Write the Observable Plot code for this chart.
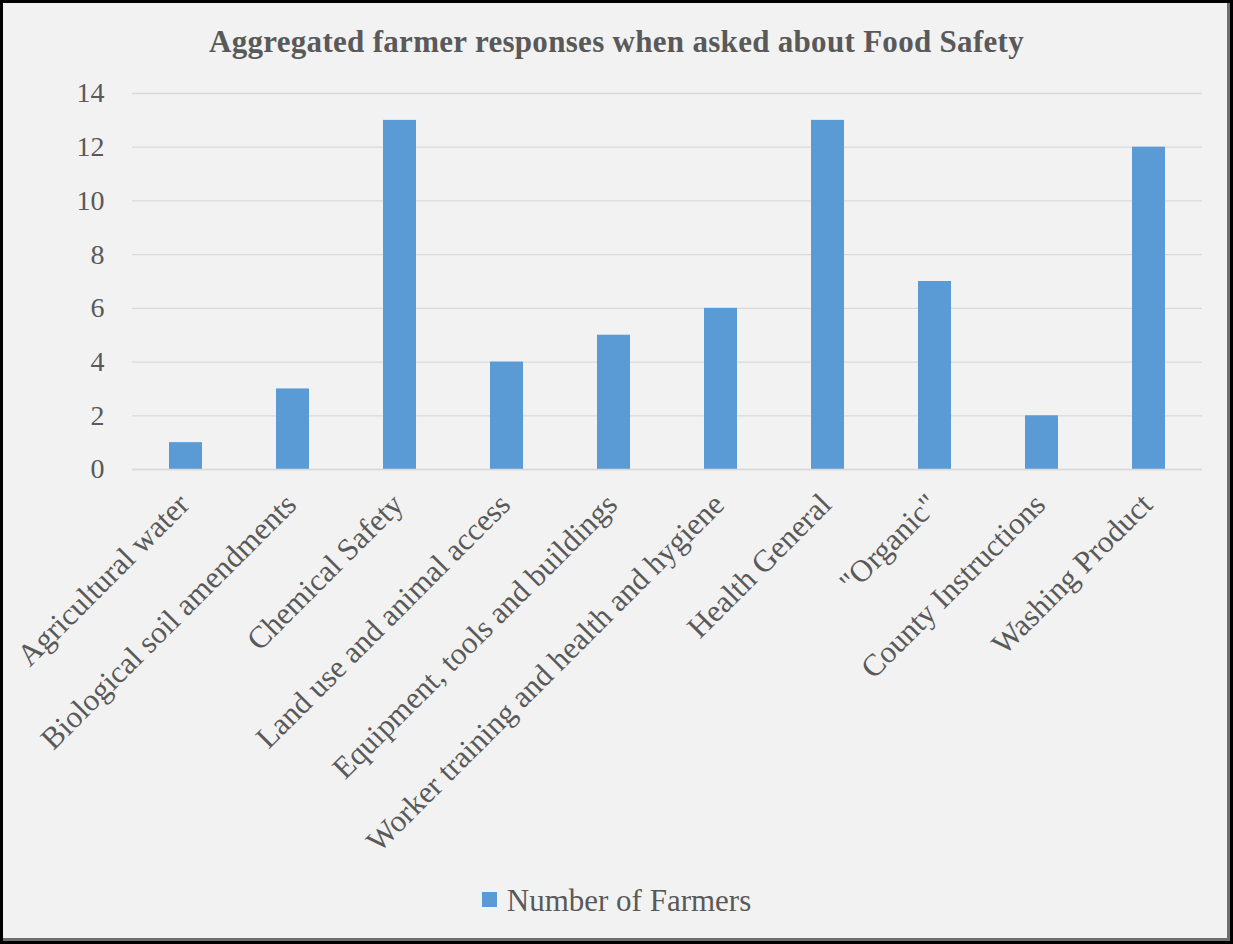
<!DOCTYPE html>
<html>
<head>
<meta charset="utf-8">
<script src="https://cdn.jsdelivr.net/npm/d3@7"></script>
<script src="https://cdn.jsdelivr.net/npm/@observablehq/plot@0.6"></script>
<style>
  html, body { margin: 0; padding: 0; background: #fff; }
  #frame {
    position: relative; width: 1233px; height: 944px; box-sizing: border-box;
    border: 3px solid #000; background: #f2f2f2;
    box-shadow: inset -3px -3px 0 #6f6f6f;
    font-family: "Liberation Serif", "DejaVu Serif", serif; color: #595959;
    overflow: hidden;
  }
  #title {
    position: absolute; left: 0; right: 0; top: 21px; text-align: center;
    font-weight: bold; font-size: 31px; color: #595959; letter-spacing: 0.3px;
  }
  #chart { position: absolute; left: 0; top: 0; }
  #legend {
    position: absolute; left: 0; right: 0; top: 880px; text-align: center;
    font-size: 31px; color: #595959;
  }
  #legend .sw { display: inline-block; width: 15px; height: 15px; background: #5b9bd5; margin-right: 10px; vertical-align: 4px; }
</style>
</head>
<body>
<div id="frame">
  <div id="title">Aggregated farmer responses when asked about Food Safety</div>
  <div id="chart"></div>
  <div id="legend"><span class="sw"></span>Number of Farmers</div>
</div>
<script>
const categories = [
  "Agricultural water",
  "Biological soil amendments",
  "Chemical Safety",
  "Land use and animal access",
  "Equipment, tools and buildings",
  "Worker training and health and hygiene",
  "Health General",
  "\"Organic\"",
  "County Instructions",
  "Washing Product"
];
const values = [1, 3, 13, 4, 5, 6, 13, 7, 2, 12];
const yTicks = [0, 2, 4, 6, 8, 10, 12, 14];
const seriesName = "Number of Farmers";

const data = categories.map((c, i) => ({category: c, value: values[i]}));

const chart = Plot.plot({
  width: 1227,
  height: 938,
  marginLeft: 129,
  marginRight: 28,
  marginTop: 90,
  marginBottom: 472,
  style: {background: "transparent", fontFamily: "'Liberation Serif', serif", color: "#595959"},
  x: {domain: categories, paddingInner: 0.69, paddingOuter: 0.345, label: null},
  y: {domain: [0, 14], label: null},
  marks: [
    Plot.gridY(yTicks, {stroke: "#d9d9d9", strokeOpacity: 1, strokeWidth: 1.3}),
    Plot.barY(data, {x: "category", y: "value", fill: "#5b9bd5"}),
    Plot.ruleY([0], {stroke: "#d9d9d9", strokeWidth: 1.3}),
    Plot.axisY(yTicks, {tickSize: 0, tickPadding: 28, fontSize: 28, fill: "#595959", label: null}),
    Plot.axisX({tickSize: 0, tickRotate: -45, tickPadding: 30, fontSize: 31, fill: "#595959", label: null, dx: -2, style: {letterSpacing: "0.3px"}})
  ]
});
document.getElementById("chart").appendChild(chart);
</script>
</body>
</html>
